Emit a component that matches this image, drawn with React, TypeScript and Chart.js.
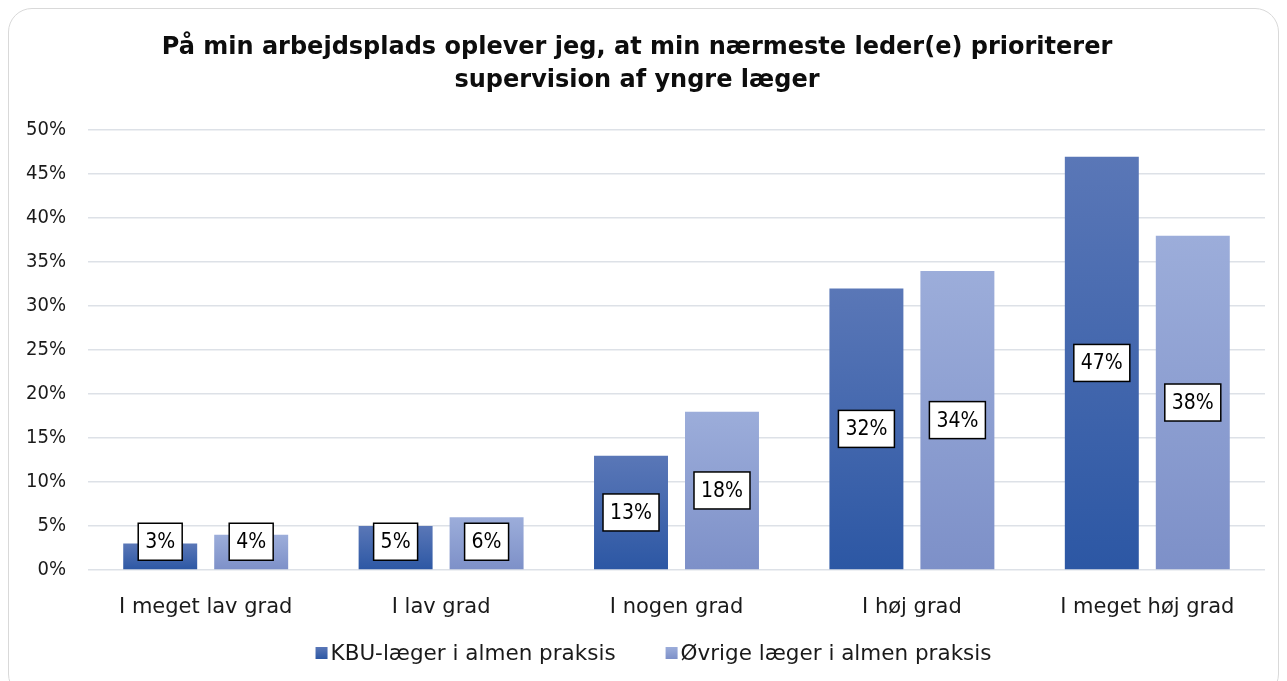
import React, { useEffect, useRef } from "react";
import { Chart, registerables } from "chart.js";

Chart.register(...registerables);

const categories = ["I meget lav grad", "I lav grad", "I nogen grad", "I høj grad", "I meget høj grad"];
const seriesNames = ["KBU-læger i almen praksis", "Øvrige læger i almen praksis"];
const kbuValues = [3, 5, 13, 32, 47];
const otherValues = [4, 6, 18, 34, 38];
const titleLines = [
  "På min arbejdsplads oplever jeg, at min nærmeste leder(e) prioriterer",
  "supervision af yngre læger",
];

const FONT_C = "'DejaVu Sans Condensed', 'DejaVu Sans', sans-serif";
const FONT = "'DejaVu Sans', sans-serif";
const darkTop = "#5a77b7";
const darkBottom = "#2c57a4";
const lightTop = "#9cadda";
const lightBottom = "#7d90c8";

function gradientFor(top: string, bottom: string, fallback: string) {
  return (ctx: any) => {
    const chart = ctx.chart;
    const area = chart.chartArea;
    if (!area || ctx.type !== "data") return fallback;
    const y = chart.scales.y;
    const v = ctx.raw as number;
    const yTop = y.getPixelForValue(v);
    const yBase = y.getPixelForValue(0);
    if (!isFinite(yTop) || !isFinite(yBase) || yTop === yBase) return fallback;
    const g = chart.ctx.createLinearGradient(0, yTop, 0, yBase);
    g.addColorStop(0, top);
    g.addColorStop(1, bottom);
    return g;
  };
}

const labelPlugin = {
  id: "boxLabels",
  afterDatasetsDraw(chart: any) {
    const ctx = chart.ctx;
    ctx.save();
    ctx.font = `21px ${FONT_C}`;
    ctx.textAlign = "center";
    ctx.textBaseline = "middle";
    chart.data.datasets.forEach((ds: any, di: number) => {
      const meta = chart.getDatasetMeta(di);
      meta.data.forEach((bar: any, i: number) => {
        const text = `${ds.data[i]}%`;
        const w = ctx.measureText(text).width + 14;
        const h = 37;
        let cy = (bar.y + bar.base) / 2;
        const maxCy = bar.base - 9 - h / 2;
        if (cy > maxCy) cy = maxCy;
        const x = bar.x - w / 2;
        const y = cy - h / 2;
        ctx.fillStyle = "#ffffff";
        ctx.fillRect(x, y, w, h);
        ctx.lineWidth = 1.5;
        ctx.strokeStyle = "#000000";
        ctx.strokeRect(x, y, w, h);
        ctx.fillStyle = "#000000";
        ctx.fillText(text, bar.x, cy + 1);
      });
    });
    ctx.restore();
  },
};

const legendPlugin = {
  id: "customLegend",
  afterDraw(chart: any) {
    const ctx = chart.ctx;
    ctx.save();
    ctx.font = `21.5px ${FONT}`;
    ctx.textBaseline = "middle";
    ctx.textAlign = "left";
    const box = 12;
    const textGap = 3;
    const itemGap = 50;
    const widths = seriesNames.map((n) => box + textGap + ctx.measureText(n).width);
    const total = widths.reduce((a, b) => a + b, 0) + itemGap * (widths.length - 1);
    let x = (chart.width - total) / 2 + 10;
    const cy = 644;
    const colors = [darkBottom, lightBottom];
    const colorsTop = [darkTop, lightTop];
    seriesNames.forEach((n, i) => {
      const g = ctx.createLinearGradient(0, cy - box / 2, 0, cy + box / 2);
      g.addColorStop(0, colorsTop[i]);
      g.addColorStop(1, colors[i]);
      ctx.fillStyle = g;
      ctx.fillRect(x, cy - box / 2, box, box);
      ctx.fillStyle = "#1a1a1a";
      ctx.fillText(n, x + box + textGap, cy + 1);
      x += widths[i] + itemGap;
    });
    ctx.restore();
  },
};

export default function App() {
  const ref = useRef<HTMLCanvasElement | null>(null);
  useEffect(() => {
    if (!ref.current) return;
    const chart = new Chart(ref.current, {
      type: "bar",
      data: {
        labels: categories,
        datasets: [
          {
            label: seriesNames[0],
            data: kbuValues,
            backgroundColor: gradientFor(darkTop, darkBottom, "#3f64ae"),
            categoryPercentage: 0.773,
            barPercentage: 0.813,
          },
          {
            label: seriesNames[1],
            data: otherValues,
            backgroundColor: gradientFor(lightTop, lightBottom, "#8c9fd1"),
            categoryPercentage: 0.773,
            barPercentage: 0.813,
          },
        ],
      },
      options: {
        animation: false,
        responsive: false,
        maintainAspectRatio: false,
        layout: { padding: { left: 0, right: 13, top: 0, bottom: 64 } },
        plugins: {
          legend: { display: false },
          tooltip: { enabled: false },
          title: {
            display: true,
            text: titleLines,
            color: "#0d0d0d",
            font: { family: FONT, size: 24, weight: "bold", lineHeight: 1.38 },
            padding: { top: 22, bottom: 33 },
          },
        },
        scales: {
          x: {
            grid: { display: false },
            border: { display: false },
            ticks: {
              color: "#1a1a1a",
              font: { family: FONT, size: 21 },
              padding: 17,
            },
            afterFit(scale: any) {
              scale.height = 63;
            },
          },
          y: {
            min: 0,
            max: 50,
            ticks: {
              stepSize: 5,
              color: "#1a1a1a",
              font: { family: FONT_C, size: 20 },
              padding: 22,
              callback: (v: any) => `${v}%`,
            },
            grid: { color: "#dde1e7", lineWidth: 1.5, drawTicks: false },
            border: { display: false },
            afterFit(scale: any) {
              scale.width = 79;
            },
          },
        },
      },
      plugins: [labelPlugin, legendPlugin],
    });
    return () => chart.destroy();
  }, []);

  return (
    <div
      style={{
        width: 1269,
        height: 688,
        border: "1px solid #d9d9d9",
        borderRadius: 24,
        overflow: "hidden",
        background: "#ffffff",
      }}
    >
      <canvas ref={ref} width={1269} height={688} style={{ display: "block" }} />
    </div>
  );
}
